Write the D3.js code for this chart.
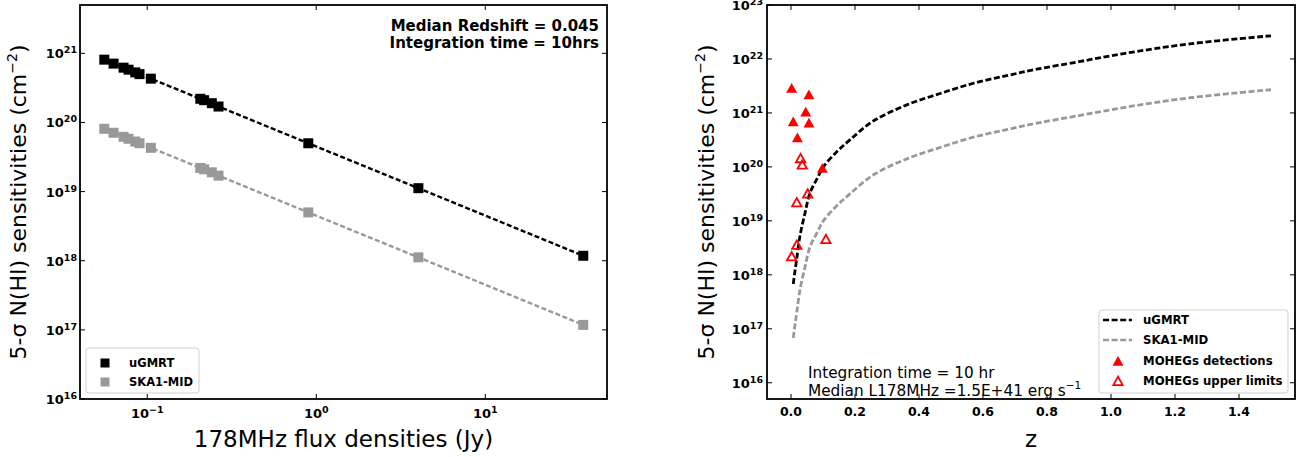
<!DOCTYPE html>
<html><head><meta charset="utf-8">
<script src="https://cdn.jsdelivr.net/npm/d3@7"></script>
<style>
html,body{margin:0;padding:0;background:#fff;}
svg{display:block;font-family:"DejaVu Sans",sans-serif;}
</style></head>
<body>
<svg id="chart" width="1314" height="457"></svg>
<script>
// ---------- Left panel data ----------
const fluxDensities = [0.0557, 0.0632, 0.0724, 0.0775, 0.0849, 0.090, 0.105, 0.206, 0.217, 0.241, 0.264, 0.897, 4.02, 38.0];
const ugmrtFluxN = [8.1e20, 7.1e20, 6.2e20, 5.8e20, 5.3e20, 5.0e20, 4.3e20, 2.2e20, 2.1e20, 1.9e20, 1.7e20, 5.0e19, 1.12e19, 1.18e18];
const skaFluxN = [8.1e19, 7.1e19, 6.2e19, 5.8e19, 5.3e19, 5.0e19, 4.3e19, 2.2e19, 2.1e19, 1.9e19, 1.7e19, 5.0e18, 1.12e18, 1.18e17];
const leftXTicks = [0.1, 1, 10];
const leftXTickExp = ["\u22121", "0", "1"];
const leftYTicks = [1e16, 1e17, 1e18, 1e19, 1e20, 1e21];
const leftYTickExp = ["16", "17", "18", "19", "20", "21"];

// ---------- Right panel data ----------
const zCurve = [0.007, 0.012, 0.018, 0.028, 0.044, 0.059, 0.083, 0.101, 0.143, 0.184, 0.257, 0.362, 0.466, 0.570, 0.674, 0.768, 0.900, 1.04, 1.247, 1.5];
const ugmrtZN = [6.76e17, 1.12e18, 2.0e18, 5.25e18, 1.41e19, 3.24e19, 6.31e19, 1.0e20, 1.91e20, 3.16e20, 7.08e20, 1.41e21, 2.29e21, 3.55e21, 4.9e21, 6.46e21, 8.91e21, 1.26e22, 1.91e22, 2.69e22];
const skaZN = [6.76e16, 1.12e17, 2.0e17, 5.25e17, 1.41e18, 3.24e18, 6.31e18, 1.0e19, 1.91e19, 3.16e19, 7.08e19, 1.41e20, 2.29e20, 3.55e20, 4.9e20, 6.46e20, 8.91e20, 1.26e21, 1.91e21, 2.69e21];
const detZ = [0.002, 0.056, 0.046, 0.007, 0.056, 0.020, 0.098];
const detN = [2.9e21, 2.2e21, 1.05e21, 6.9e20, 6.6e20, 3.5e20, 9.5e19];
const ulZ = [0.030, 0.035, 0.052, 0.018, 0.018, 0.002, 0.109];
const ulN = [1.45e20, 1.1e20, 3.2e19, 2.2e19, 3.6e18, 2.2e18, 4.6e18];
const rightXTicks = [0.0, 0.2, 0.4, 0.6, 0.8, 1.0, 1.2, 1.4];
const rightYTicks = [1e16, 1e17, 1e18, 1e19, 1e20, 1e21, 1e22, 1e23];
const rightYTickExp = ["16", "17", "18", "19", "20", "21", "22", "23"];

const svg = d3.select("#chart");
const BLACK = "#000", GRAY = "#999999", RED = "#ff0000";

function frame(g, x0, x1, y0, y1) {
  g.append("rect").attr("x", x0).attr("y", y0).attr("width", x1 - x0).attr("height", y1 - y0)
    .attr("fill", "none").attr("stroke", "#000").attr("stroke-width", 1.8);
}
function powLabel(g, x, y, exp, anchor) {
  const t = g.append("text").attr("x", x).attr("y", y).attr("text-anchor", anchor)
    .attr("font-size", 13).attr("font-weight", "bold").attr("fill", "#000");
  t.append("tspan").text("10");
  t.append("tspan").attr("font-size", 9.5).attr("dy", -5).text(exp);
}
function yLabel(g, x, y) {
  const t = g.append("text").attr("transform", `translate(${x},${y}) rotate(-90)`)
    .attr("text-anchor", "middle").attr("font-size", 22).attr("fill", "#000");
  t.append("tspan").text("5-\u03c3 N(HI) sensitivities (cm");
  t.append("tspan").attr("font-size", 14).attr("dy", -9).text("\u22122");
  t.append("tspan").attr("dy", 9).text(")");
}

// ================= LEFT PANEL =================
const L = {x0: 80, x1: 607, y0: 5, y1: 399};
const xL = d3.scaleLog().domain([0.04, 52.5]).range([L.x0, L.x1]);
const yL = d3.scaleLog().domain([1e16, 5e21]).range([L.y1, L.y0]);
const gL = svg.append("g");

leftXTicks.forEach((v, i) => {
  const x = xL(v);
  gL.append("line").attr("x1", x).attr("x2", x).attr("y1", L.y1).attr("y2", L.y1 - 5).attr("stroke", "#000");
  gL.append("line").attr("x1", x).attr("x2", x).attr("y1", L.y0).attr("y2", L.y0 + 5).attr("stroke", "#000");
  powLabel(gL, x, 418, leftXTickExp[i], "middle");
});
leftYTicks.forEach((v, i) => {
  const y = yL(v);
  gL.append("line").attr("x1", L.x0).attr("x2", L.x0 + 5).attr("y1", y).attr("y2", y).attr("stroke", "#000");
  gL.append("line").attr("x1", L.x1).attr("x2", L.x1 - 5).attr("y1", y).attr("y2", y).attr("stroke", "#000");
  powLabel(gL, 77, y + 5, leftYTickExp[i], "end");
});

const lineL = d3.line().x(d => xL(d[0])).y(d => yL(d[1]));
[[ugmrtFluxN, BLACK], [skaFluxN, GRAY]].forEach(([arr, col]) => {
  const pts = fluxDensities.map((f, i) => [f, arr[i]]);
  gL.append("path").attr("d", lineL(pts)).attr("fill", "none").attr("stroke", col)
    .attr("stroke-width", 2.4).attr("stroke-dasharray", "5,2.5");
  gL.selectAll(null).data(pts).enter().append("rect")
    .attr("x", d => xL(d[0]) - 5).attr("y", d => yL(d[1]) - 5)
    .attr("width", 10).attr("height", 10).attr("fill", col);
});
frame(gL, L.x0, L.x1, L.y0, L.y1);

// legend left
gL.append("rect").attr("x", 86).attr("y", 348).attr("width", 113).attr("height", 45).attr("rx", 3)
  .attr("fill", "#fff").attr("fill-opacity", 0.8).attr("stroke", "#d0d0d0");
[["uGMRT", BLACK, 363], ["SKA1-MID", GRAY, 382]].forEach(([lab, col, y]) => {
  gL.append("rect").attr("x", 100.5).attr("y", y - 4.5).attr("width", 9).attr("height", 9).attr("fill", col);
  gL.append("text").attr("x", 129).attr("y", y + 4).attr("font-size", 11.5).attr("font-weight", "bold").text(lab);
});
gL.append("text").attr("x", 599).attr("y", 31).attr("text-anchor", "end").attr("font-size", 15)
  .attr("font-weight", "bold").text("Median Redshift = 0.045");
gL.append("text").attr("x", 599).attr("y", 48).attr("text-anchor", "end").attr("font-size", 15)
  .attr("font-weight", "bold").text("Integration time = 10hrs");
gL.append("text").attr("x", (L.x0 + L.x1) / 2).attr("y", 447).attr("text-anchor", "middle")
  .attr("font-size", 23).text("178MHz flux densities (Jy)");
yLabel(gL, 26, (L.y0 + L.y1) / 2);

// ================= RIGHT PANEL =================
const R = {x0: 767, x1: 1295, y0: 5, y1: 399};
const xR = d3.scaleLinear().domain([-0.075, 1.575]).range([R.x0, R.x1]);
const yR = d3.scaleLog().domain([5e15, 1e23]).range([R.y1, R.y0]);
const gR = svg.append("g");

rightXTicks.forEach(v => {
  const x = xR(v);
  gR.append("line").attr("x1", x).attr("x2", x).attr("y1", R.y1).attr("y2", R.y1 - 5).attr("stroke", "#000");
  gR.append("line").attr("x1", x).attr("x2", x).attr("y1", R.y0).attr("y2", R.y0 + 5).attr("stroke", "#000");
  gR.append("text").attr("x", x).attr("y", 416).attr("text-anchor", "middle").attr("font-size", 12.5)
    .attr("font-weight", "bold").text(d3.format(".1f")(v));
});
rightYTicks.forEach((v, i) => {
  const y = yR(v);
  gR.append("line").attr("x1", R.x0).attr("x2", R.x0 + 5).attr("y1", y).attr("y2", y).attr("stroke", "#000");
  gR.append("line").attr("x1", R.x1).attr("x2", R.x1 - 5).attr("y1", y).attr("y2", y).attr("stroke", "#000");
  powLabel(gR, 763, y + 5, rightYTickExp[i], "end");
});

const lineR = d3.line().x(d => xR(d[0])).y(d => yR(d[1])).curve(d3.curveCatmullRom.alpha(0.5));
[[ugmrtZN, BLACK], [skaZN, GRAY]].forEach(([arr, col]) => {
  const pts = zCurve.map((z, i) => [z, arr[i]]);
  gR.append("path").attr("d", lineR(pts)).attr("fill", "none").attr("stroke", col)
    .attr("stroke-width", 2.8).attr("stroke-dasharray", "6,2.6");
});
const tri = (cx, cy, s) => `M${cx},${cy - s * 0.48}L${cx + s * 0.52},${cy + s * 0.45}L${cx - s * 0.52},${cy + s * 0.45}Z`;
detZ.forEach((z, i) => {
  gR.append("path").attr("d", tri(xR(z), yR(detN[i]), 10.5)).attr("fill", RED);
});
ulZ.forEach((z, i) => {
  gR.append("path").attr("d", tri(xR(z), yR(ulN[i]), 9)).attr("fill", "none")
    .attr("stroke", RED).attr("stroke-width", 1.8);
});
frame(gR, R.x0, R.x1, R.y0, R.y1);

// legend right
gR.append("rect").attr("x", 1099).attr("y", 310).attr("width", 189).attr("height", 83).attr("rx", 3)
  .attr("fill", "#fff").attr("fill-opacity", 0.8).attr("stroke", "#d0d0d0");
[["uGMRT", BLACK, 320], ["SKA1-MID", GRAY, 340]].forEach(([lab, col, y]) => {
  gR.append("line").attr("x1", 1103).attr("x2", 1132).attr("y1", y).attr("y2", y)
    .attr("stroke", col).attr("stroke-width", 2.4).attr("stroke-dasharray", "6,2.6");
  gR.append("text").attr("x", 1143).attr("y", y + 4).attr("font-size", 11.7).attr("font-weight", "bold").text(lab);
});
gR.append("path").attr("d", tri(1118, 361, 10.5)).attr("fill", RED);
gR.append("text").attr("x", 1143).attr("y", 365).attr("font-size", 11.7).attr("font-weight", "bold").text("MOHEGs detections");
gR.append("path").attr("d", tri(1118, 381, 9)).attr("fill", "none").attr("stroke", RED).attr("stroke-width", 1.8);
gR.append("text").attr("x", 1143).attr("y", 385).attr("font-size", 11.7).attr("font-weight", "bold").text("MOHEGs upper limits");

gR.append("text").attr("x", 808).attr("y", 378).attr("font-size", 15.3).text("Integration time = 10 hr");
const med = gR.append("text").attr("x", 808).attr("y", 396).attr("font-size", 15.3);
med.append("tspan").text("Median L178MHz =1.5E+41 erg s");
med.append("tspan").attr("font-size", 10.5).attr("dy", -7).text("\u22121");

gR.append("text").attr("x", (R.x0 + R.x1) / 2).attr("y", 447).attr("text-anchor", "middle")
  .attr("font-size", 23).text("z");
yLabel(gR, 714, (R.y0 + R.y1) / 2);
</script>
</body></html>
